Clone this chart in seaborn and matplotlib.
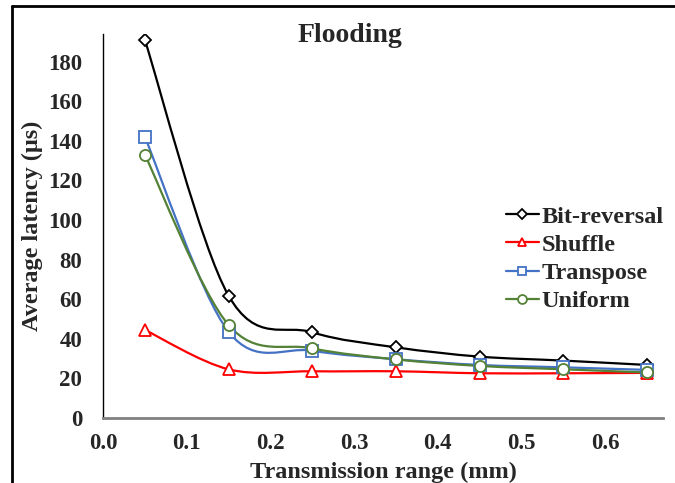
# Flooding: average latency vs transmission range
import numpy as np
import pandas as pd
import matplotlib
matplotlib.use("Agg")
import matplotlib.pyplot as plt
import seaborn as sns
from matplotlib.path import Path
from matplotlib.patches import PathPatch
from matplotlib.lines import Line2D

# --------------------------------------------
# Data
# --------------------------------------------
ranges = [0.05, 0.15, 0.25, 0.35, 0.45, 0.55, 0.65]
bit_reversal = [191, 61.8, 43.3, 35.7, 31, 29, 26.8]
shuffle = [44.5, 24.6, 23.6, 23.6, 22.6, 22.6, 22.8]
transpose = [142, 43.6, 34, 29.7, 26.8, 25.6, 24.3]
uniform = [133, 47, 35.2, 29.6, 26.3, 24.6, 23]

series_names = ["Bit-reversal", "Shuffle", "Transpose", "Uniform"]
series_values = [bit_reversal, shuffle, transpose, uniform]
colors = ["#000000", "#FF0000", "#4472C4", "#538135"]
markers = ["D", "^", "s", "o"]
marker_sizes = [6.5, 8, 8, 8]

y_ticks = [0, 20, 40, 60, 80, 100, 120, 140, 160, 180]
x_ticks = [0.0, 0.1, 0.2, 0.3, 0.4, 0.5, 0.6]

rows = []
for name, vals in zip(series_names, series_values):
    for xv, yv in zip(ranges, vals):
        rows.append({"range": xv, "latency": yv, "pattern": name})
df = pd.DataFrame(rows)

# --------------------------------------------
# Style
# --------------------------------------------
sns.set_style("white")
plt.rcParams["font.family"] = ["Liberation Serif", "DejaVu Serif"]
plt.rcParams["font.weight"] = "bold"


def smooth_path(xs, ys):
    # Excel-like smoothed line: cubic Bezier through the data points
    pts = np.column_stack([xs, ys]).astype(float)
    n = len(pts)
    verts = [pts[0]]
    codes = [Path.MOVETO]
    for i in range(n - 1):
        p0 = pts[i - 1] if i > 0 else pts[i]
        p1 = pts[i]
        p2 = pts[i + 1]
        p3 = pts[i + 2] if i + 2 < n else pts[i + 1]
        c1 = p1 + (p2 - p0) / 6.0
        c2 = p2 - (p3 - p1) / 6.0
        verts += [c1, c2, p2]
        codes += [Path.CURVE4] * 3
    return Path(verts, codes)


fig = plt.figure(figsize=(6.75, 4.83), dpi=100)
ax = fig.add_axes([103 / 675, 1 - 418 / 483, 560 / 675, 384 / 483])

# --------------------------------------------
# Lines and markers
# --------------------------------------------
handles = []
for name, color, mk, ms in zip(series_names, colors, markers, marker_sizes):
    sub = df[df["pattern"] == name]
    patch = PathPatch(smooth_path(sub["range"], sub["latency"]),
                      fill=False, edgecolor=color, lw=1.6, zorder=2)
    ax.add_patch(patch)
    sns.lineplot(x=sub["range"], y=sub["latency"], ax=ax, color=color,
                 linestyle="", marker=mk, markersize=ms,
                 markerfacecolor="white", markeredgecolor=color,
                 markeredgewidth=1.3, zorder=3)
    handles.append(Line2D([0], [0], color=color, lw=1.6, marker=mk,
                          markersize=ms * 0.8, markerfacecolor="white",
                          markeredgecolor=color, markeredgewidth=1.3))

ax.set_xlim(0, 0.669)
ax.set_ylim(0, 194)
ax.set_xticks(x_ticks)
ax.set_yticks(y_ticks)
ax.set_xticklabels([f"{v:.1f}" for v in x_ticks], fontsize=16.5, fontweight="bold")
ax.set_yticklabels([str(v) for v in y_ticks], fontsize=16.5, fontweight="bold")
ax.tick_params(axis="both", length=0)
ax.tick_params(axis="y", pad=15)
ax.tick_params(axis="x", pad=11)

sns.despine(ax=ax)
ax.spines["left"].set_color("black")
ax.spines["left"].set_linewidth(1.0)
ax.spines["bottom"].set_color("#808080")
ax.spines["bottom"].set_linewidth(2.0)

ax.set_xlabel("Transmission range (mm)", fontsize=17.5, fontweight="bold")
ax.set_ylabel("Average latency (\u03bcs)", fontsize=17.5, fontweight="bold")
ax.xaxis.set_label_coords(0.5, -0.113)
ax.yaxis.set_label_coords(-0.107, 0.5)

fig.text(350 / 675, 1 - 35 / 483, "Flooding", fontsize=20, fontweight="bold",
         ha="center", va="center")

ax.legend(handles, series_names, loc="center left",
          bbox_to_anchor=(506 / 675, 1 - 259 / 483),
          bbox_transform=fig.transFigure, frameon=False,
          prop={"size": 17.5, "weight": "bold"}, handlelength=1.35,
          handletextpad=0.1, labelspacing=0.25, borderpad=0, borderaxespad=0)

# outer chart frame: only left and top edges are visible in the reference
frame_x = 12 / 675
frame_y = 1 - 6 / 483
fig.add_artist(Line2D([frame_x, frame_x], [0, frame_y], transform=fig.transFigure,
                      color="black", lw=2))
fig.add_artist(Line2D([frame_x, 1], [frame_y, frame_y], transform=fig.transFigure,
                      color="black", lw=2))

fig.savefig("out.png", dpi=100)
